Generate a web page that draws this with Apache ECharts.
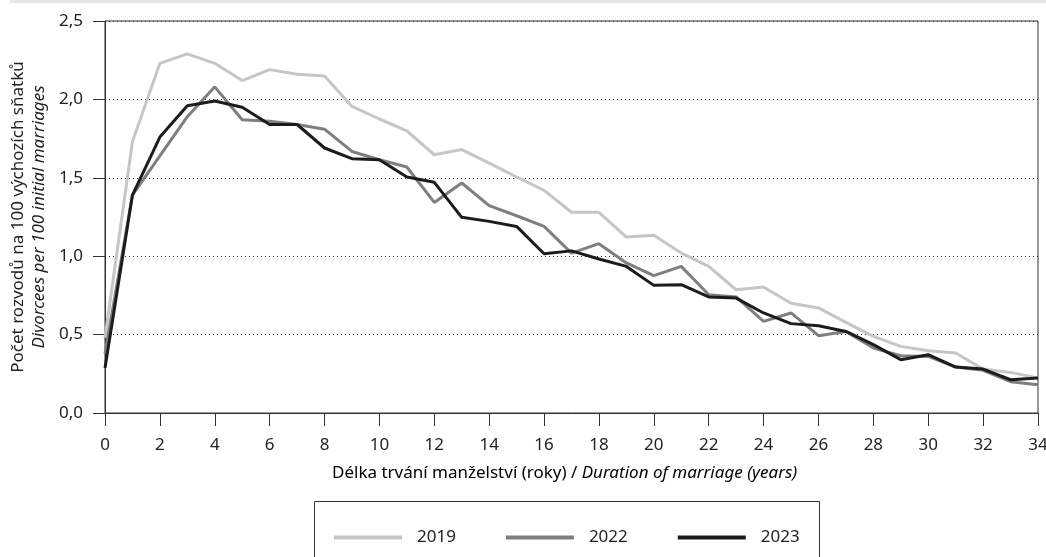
<!DOCTYPE html>
<html>
<head>
<meta charset="utf-8">
<script src="https://cdn.jsdelivr.net/npm/echarts@6/dist/echarts.min.js"></script>
<style>
  html, body { margin: 0; padding: 0; background: #fff; }
  #chart { width: 1046px; height: 557px; }
</style>
</head>
<body>
<div id="chart"></div>
<script>
// years of marriage duration
const years = Array.from({ length: 35 }, (_, i) => String(i))

// divorces per 100 initial marriages
const data2019 = [0.48, 1.73, 2.23, 2.29, 2.23, 2.12, 2.19, 2.16, 2.15, 1.955, 1.875, 1.80, 1.647, 1.68, 1.594, 1.505, 1.42, 1.28, 1.28, 1.122, 1.133, 1.02, 0.935, 0.786, 0.803, 0.70, 0.67, 0.578, 0.489, 0.425, 0.397, 0.383, 0.28, 0.259, 0.223]
const data2022 = [0.38, 1.39, 1.64, 1.89, 2.08, 1.87, 1.86, 1.84, 1.81, 1.668, 1.615, 1.569, 1.343, 1.467, 1.322, 1.258, 1.19, 1.02, 1.08, 0.957, 0.876, 0.935, 0.754, 0.74, 0.584, 0.638, 0.493, 0.52, 0.414, 0.365, 0.361, 0.293, 0.272, 0.20, 0.18]
const data2023 = [0.287, 1.39, 1.76, 1.96, 1.99, 1.95, 1.84, 1.84, 1.69, 1.622, 1.615, 1.505, 1.471, 1.248, 1.222, 1.19, 1.016, 1.034, 0.982, 0.935, 0.814, 0.818, 0.74, 0.733, 0.638, 0.57, 0.557, 0.52, 0.436, 0.34, 0.372, 0.293, 0.28, 0.212, 0.223]

const seriesNames = ['2019', '2022', '2023']
const seriesColors = ['#c6c6c6', '#7f7f7f', '#1c1c1c']

const font = 'Noto Sans'
const fs = 17
const chart = echarts.init(document.getElementById('chart'))

const makeLine = (name, data, color) => ({
  name,
  type: 'line',
  data,
  symbol: 'none',
  lineStyle: { color, width: 3 },
  itemStyle: { color }
})

const option = {
  animation: false,
  textStyle: { fontFamily: font },
  grid: {
    left: 105,
    right: 8,
    top: 21,
    bottom: 144,
    outerBoundsMode: 'none',
    containLabel: false,
    show: true,
    borderColor: '#333',
    borderWidth: 1
  },
  legend: {
    data: seriesNames,
    icon: 'rect',
    left: 329,
    top: 524,
    itemWidth: 68,
    itemHeight: 4,
    itemGap: 50,
    textStyle: { fontSize: fs, color: '#222', fontFamily: font, padding: [0, 0, 0, 10] }
  },
  graphic: [
    {
      type: 'rect',
      shape: { x: 314.5, y: 501.5, width: 505, height: 100 },
      style: { fill: 'none', stroke: '#333', lineWidth: 1 }
    },
    {
      type: 'rect',
      shape: { x: 10, y: 0, width: 1036, height: 3 },
      style: { fill: '#e6e6e6' }
    },
    {
      type: 'text',
      x: 332,
      y: 473,
      style: {
        text: '{a|Délka trvání manželství (roky) / }{b|Duration of marriage (years)}',
        verticalAlign: 'middle',
        rich: {
          a: { fontSize: fs, color: '#222', fontFamily: font },
          b: { fontSize: fs, color: '#222', fontFamily: font, fontStyle: 'italic' }
        }
      }
    }
  ],
  xAxis: {
    type: 'category',
    data: years,
    boundaryGap: false,
    axisLine: { lineStyle: { color: '#333', width: 1 } },
    axisTick: { interval: 1, length: 13, lineStyle: { color: '#333' } },
    axisLabel: { interval: 1, fontSize: fs, color: '#222', margin: 24 },
    splitLine: { show: false }
  },
  yAxis: {
    type: 'value',
    min: 0,
    max: 2.5,
    interval: 0.5,
    name: '{a|Počet rozvodů na 100 výchozích sňatků}\n{b|Divorcees per 100 initial marriages}',
    nameLocation: 'middle',
    nameGap: 53,
    nameTextStyle: {
      rich: {
        a: { fontSize: fs, color: '#222', fontFamily: font, lineHeight: 21 },
        b: { fontSize: fs, color: '#222', fontFamily: font, fontStyle: 'italic', lineHeight: 21 }
      }
    },
    axisLine: { show: true, lineStyle: { color: '#333', width: 1 } },
    axisTick: { show: true, inside: false, length: 12, lineStyle: { color: '#333' } },
    axisLabel: {
      fontSize: fs,
      color: '#222',
      margin: 22,
      formatter: v => v.toFixed(1).replace('.', ',')
    },
    splitLine: { lineStyle: { color: '#333', type: [1, 3], width: 1 } }
  },
  series: [
    makeLine(seriesNames[0], data2019, seriesColors[0]),
    makeLine(seriesNames[1], data2022, seriesColors[1]),
    makeLine(seriesNames[2], data2023, seriesColors[2])
  ]
}

chart.setOption(option)
</script>
</body>
</html>
